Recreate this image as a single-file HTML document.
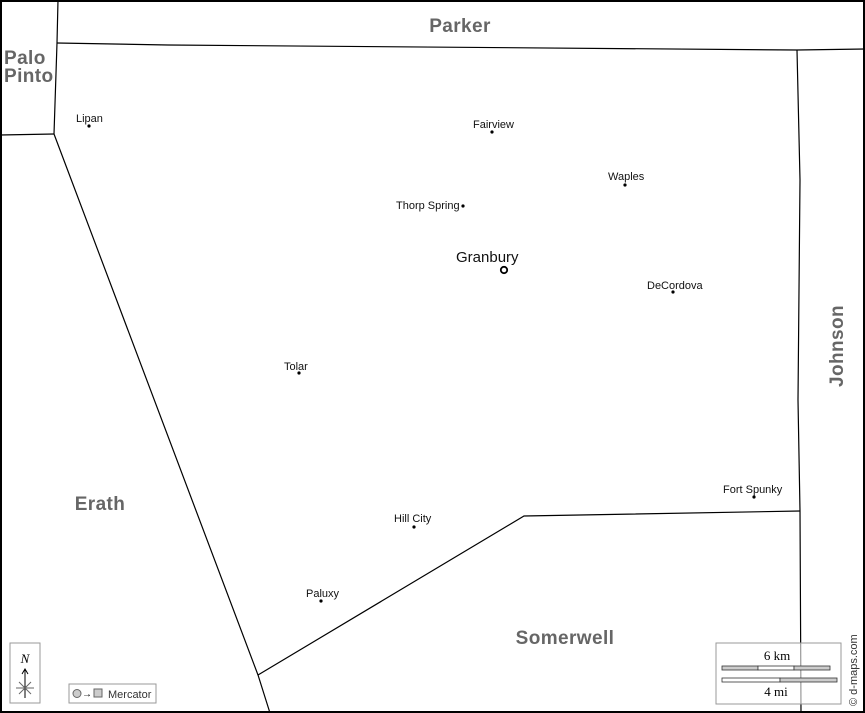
<!DOCTYPE html>
<html><head><meta charset="utf-8"><style>
html,body{margin:0;padding:0;background:#fff}
svg{display:block}
text{font-family:"Liberation Sans",sans-serif}
.t{font-size:11px;fill:#111}
.r{font-size:19px;font-weight:bold;fill:#666;letter-spacing:0.4px}
</style></head><body>
<svg width="865" height="713" viewBox="0 0 865 713" xmlns="http://www.w3.org/2000/svg">
<rect x="0" y="0" width="865" height="713" fill="#fff"/>
<g fill="none" stroke="#000" stroke-width="1.2">
<polyline points="58,0 57,43 54,134"/>
<polyline points="0,135 54,134"/>
<polyline points="57,43 168,45 797,50 865,49"/>
<polyline points="54,134 258,675 270,713"/>
<polyline points="797,50 800,180 798,400 800,511 801,713"/>
<polyline points="258,675 524,516 800,511"/>
</g>
<rect x="1" y="1" width="863" height="711" fill="none" stroke="#000" stroke-width="2"/>
<text class="r" x="460" y="32" text-anchor="middle">Parker</text>
<text class="r" x="4" y="64">Palo</text>
<text class="r" x="4" y="82">Pinto</text>
<text class="r" x="100" y="510" text-anchor="middle">Erath</text>
<text class="r" x="565" y="644" text-anchor="middle">Somerwell</text>
<text class="r" transform="translate(843,346) rotate(-90)" text-anchor="middle">Johnson</text>
<g fill="#000">
<circle cx="89" cy="126" r="1.6"/><circle cx="492" cy="132" r="1.6"/>
<circle cx="625" cy="185" r="1.6"/><circle cx="463" cy="206" r="1.6"/>
<circle cx="673" cy="292" r="1.6"/><circle cx="299" cy="373" r="1.6"/>
<circle cx="754" cy="497" r="1.6"/><circle cx="414" cy="527" r="1.6"/>
<circle cx="321" cy="601" r="1.6"/>
</g>
<circle cx="504" cy="270" r="3.2" fill="#fff" stroke="#000" stroke-width="1.8"/>
<text class="t" x="76" y="122">Lipan</text>
<text class="t" x="473" y="128">Fairview</text>
<text class="t" x="608" y="180">Waples</text>
<text class="t" x="396" y="209">Thorp Spring</text>
<text x="456" y="262" style="font-size:15px;fill:#111">Granbury</text>
<text class="t" x="647" y="289">DeCordova</text>
<text class="t" x="284" y="370">Tolar</text>
<text class="t" x="723" y="493">Fort Spunky</text>
<text class="t" x="394" y="522">Hill City</text>
<text class="t" x="306" y="597">Paluxy</text>
<rect x="10" y="643" width="30" height="60" fill="#fff" stroke="#999"/>
<text x="25" y="663" text-anchor="middle" style="font-family:'Liberation Serif',serif;font-style:italic;font-size:13px">N</text>
<g stroke="#000" stroke-width="1" fill="none">
<line x1="25" y1="670" x2="25" y2="698"/><polyline points="22,674 25,669 28,674"/>
<line x1="16" y1="688" x2="34" y2="688" stroke="#666"/><line x1="19" y1="682" x2="31" y2="694" stroke="#666"/><line x1="31" y1="682" x2="19" y2="694" stroke="#666"/>
</g>
<rect x="69" y="684" width="87" height="19" fill="#fff" stroke="#999"/>
<circle cx="77" cy="693.5" r="4" fill="#ccc" stroke="#666"/>
<text x="82" y="697" style="font-size:10px">→</text>
<rect x="94" y="689" width="8" height="8" fill="#ccc" stroke="#666"/>
<text x="108" y="698" style="font-size:11px;fill:#333">Mercator</text>
<rect x="716" y="643" width="125" height="61" fill="#fff" fill-opacity="0.6" stroke="#999"/>
<text x="777" y="660" text-anchor="middle" style="font-family:'Liberation Serif',serif;font-size:13px">6 km</text>
<g stroke="#333" stroke-width="0.8">
<rect x="722" y="666" width="36" height="4" fill="#ccc"/><rect x="758" y="666" width="36" height="4" fill="#fff"/><rect x="794" y="666" width="36" height="4" fill="#ccc"/>
<rect x="722" y="678" width="58" height="4" fill="#fff"/><rect x="780" y="678" width="57" height="4" fill="#ccc"/>
</g>
<text x="776" y="696" text-anchor="middle" style="font-family:'Liberation Serif',serif;font-size:13px">4 mi</text>
<text transform="translate(857,706) rotate(-90)" style="font-size:11px;fill:#333">© d-maps.com</text>
</svg>
</body></html>
